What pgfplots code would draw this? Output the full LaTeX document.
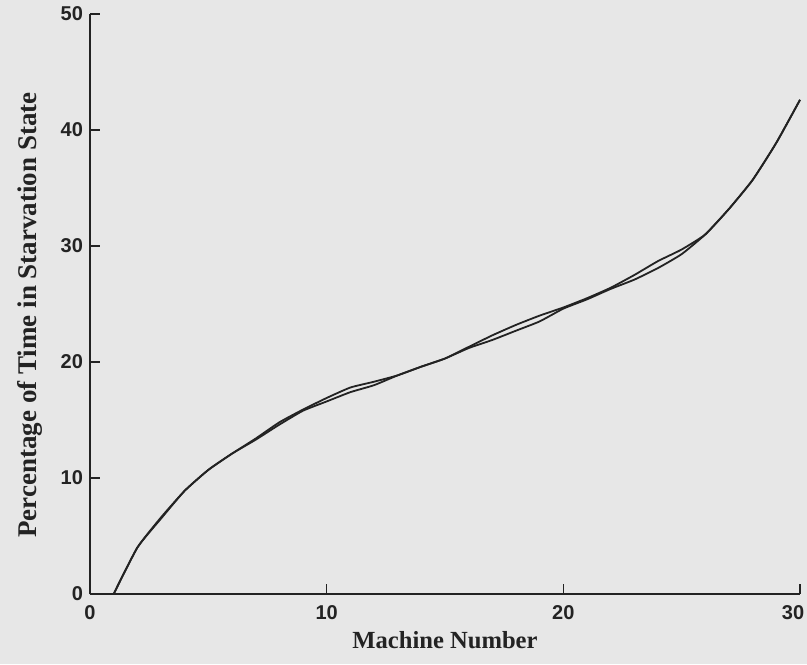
\documentclass[border=0pt]{standalone}
\usepackage{pgfplots}
\pgfplotsset{compat=1.18}
\usepackage{fontspec}
\setmainfont{Liberation Serif}
\newfontfamily\ticksans{Liberation Sans}
\definecolor{bg}{RGB}{231,231,231}
\definecolor{ink}{RGB}{35,35,35}
\pgfplotstableread{
x a b
1 0 0
2 4.0 4.0
3 6.5 6.6
4 8.9 8.9
5 10.7 10.7
6 12.1 12.1
7 13.4 13.3
8 14.8 14.6
9 15.9 15.8
10 16.9 16.6
11 17.8 17.4
12 18.3 18.0
13 18.85 18.85
14 19.6 19.6
15 20.3 20.3
16 21.3 21.2
17 22.3 21.9
18 23.2 22.7
19 24.0 23.5
20 24.7 24.6
21 25.5 25.4
22 26.4 26.3
23 27.5 27.1
24 28.7 28.1
25 29.7 29.3
26 31.0 31.0
27 33.2 33.2
28 35.7 35.7
29 38.9 38.9
30 42.6 42.6
}\datatable
\begin{document}
\begin{tikzpicture}
\useasboundingbox (-45pt,-35pt) rectangle (358.5pt,297pt);
\fill[bg] (-45pt,-35pt) rectangle (358.5pt,297pt);
\begin{axis}[
  anchor=south west, at={(0,0)},
  scale only axis, width=355pt, height=290pt,
  xmin=0, xmax=30, ymin=0, ymax=50,
  axis lines=left,
  axis line style={-, ink, line width=0.8pt},
  xtick={0,10,20,30}, ytick={0,10,20,30,40,50},
  xticklabels={0,10,20,{\hspace*{-7pt}30}},
  tick align=inside, major tick length=5pt,
  tick style={ink, line width=0.6pt},
  /pgf/number format/assume math mode=true,
  ticklabel style={font=\ticksans\bfseries\fontsize{10}{12}\selectfont, text=ink},
  xticklabel style={yshift=-2pt},
  xlabel={Machine Number},
  ylabel={Percentage of Time in Starvation State},
  xlabel style={font=\bfseries\fontsize{12.3}{14}\selectfont, text=ink, at={(axis description cs:0.5,-0.0793)}, anchor=center},
  ylabel style={font=\bfseries\fontsize{13.5}{15}\selectfont, text=ink, at={(axis description cs:-0.0845,0.481)}, anchor=center, rotate=0},
  clip=false,
]
\addplot[ink, line width=0.9pt, smooth, tension=0.3] table[x=x, y=a] {\datatable};
\addplot[ink, line width=0.9pt, smooth, tension=0.3] table[x=x, y=b] {\datatable};
\end{axis}
\end{tikzpicture}
\end{document}
